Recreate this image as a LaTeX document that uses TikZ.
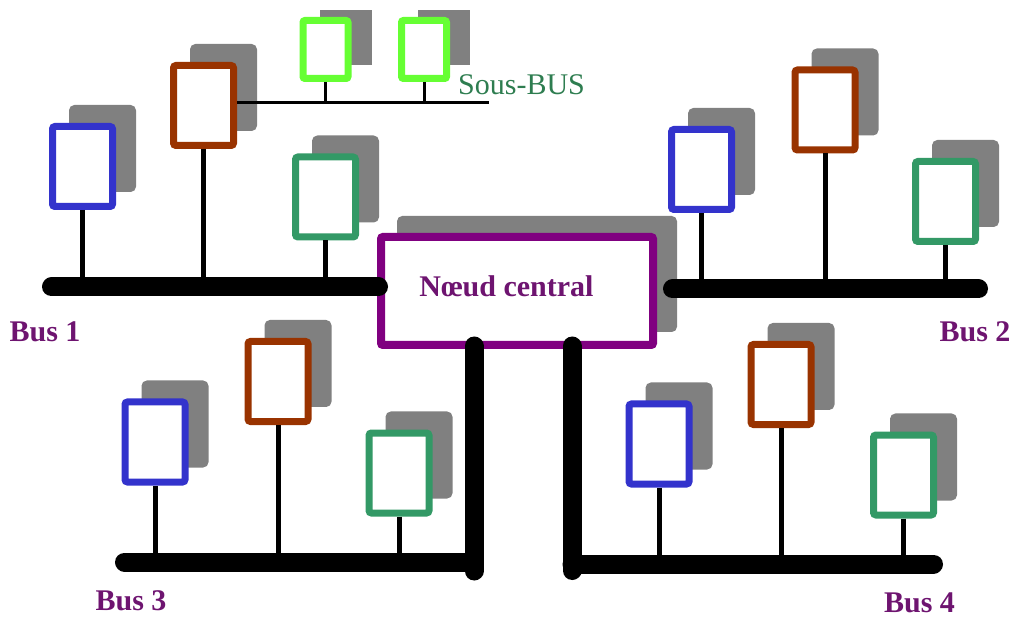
\documentclass[tikz,border=0pt]{standalone}
\usepackage{fontspec}
\setmainfont{Liberation Serif}
\usetikzlibrary{shadows,backgrounds}

\definecolor{devblue}{HTML}{3333CC}
\definecolor{devbrown}{HTML}{993300}
\definecolor{devgreen}{HTML}{339966}
\definecolor{sublime}{HTML}{66FF33}
\definecolor{hubpurple}{HTML}{800080}
\definecolor{labelpurple}{HTML}{6E1470}
\definecolor{subtext}{HTML}{2E7D50}
\definecolor{shadowgray}{HTML}{808080}

\tikzset{
  device/.style={draw=#1, fill=white, line width=7pt, rounded corners=2.5pt,
    inner sep=0pt, minimum width=60pt, minimum height=80pt,
    copy shadow={shadow xshift=20pt, shadow yshift=18pt, fill=shadowgray, draw=shadowgray}},
  subdevice/.style={draw=sublime, fill=white, line width=7pt, rounded corners=2pt,
    inner sep=0pt, minimum width=45pt, minimum height=58pt},
  hub/.style={draw=hubpurple, fill=white, line width=8pt, rounded corners=2pt,
    inner sep=0pt, minimum width=272pt, minimum height=108pt,
    copy shadow={shadow xshift=20pt, shadow yshift=17pt, fill=shadowgray, draw=shadowgray}},
  bus/.style={line width=19pt, line cap=round},
  stem/.style={line width=5pt},
  substem/.style={line width=3pt},
  buslabel/.style={text=labelpurple, font=\fontsize{30}{36}\selectfont\bfseries,
    inner sep=0pt, anchor=base},
  subtitle/.style={text=subtext, font=\fontsize{30}{36}\selectfont,
    inner sep=0pt, anchor=base west},
}

\begin{document}
\begin{tikzpicture}[x=1pt, y=-1pt]
\useasboundingbox (0,0) rectangle (1012,617);

% central node
\node[hub] (hub) at (517,291) {};
\node[buslabel] (hubtext) at (506.5,297) {Nœud central};

% bus end points
\coordinate (b1L) at (51.5,287);
\coordinate (b1R) at (378.5,287);
\coordinate (b2L) at (672.5,289);
\coordinate (b2R) at (978.5,289);
\coordinate (v3T) at (474,346);
\coordinate (v3B) at (474,571);
\coordinate (b3L) at (124.5,562);
\coordinate (v4T) at (572,346);
\coordinate (v4B) at (572,570.5);
\coordinate (b4R) at (933.5,564);
\coordinate (sbR) at (489,103);

% stations, bus 1
\node[device=devblue]  (d1a) at (82.5,166.5) {};
\node[device=devbrown] (d1b) at (203.5,105.5) {};
\node[device=devgreen] (d1c) at (325.5,197) {};
% stations, bus 2
\node[device=devblue]  (d2a) at (701.5,169.5) {};
\node[device=devbrown] (d2b) at (825,110) {};
\node[device=devgreen] (d2c) at (945.5,201.5) {};
% stations, bus 3
\node[device=devblue]  (d3a) at (155,442) {};
\node[device=devbrown] (d3b) at (278,381.5) {};
\node[device=devgreen] (d3c) at (399,473) {};
% stations, bus 4
\node[device=devblue]  (d4a) at (659,444) {};
\node[device=devbrown] (d4b) at (781,384.5) {};
\node[device=devgreen] (d4c) at (903.5,475) {};
% stations on the sub-bus
\node[subdevice] (s1) at (325.5,49.5) {};
\node[subdevice] (s2) at (424,49.5) {};
\begin{scope}[on background layer]
  \fill[shadowgray] ([xshift=20pt,yshift=7pt]s1.north west) rectangle ([xshift=20pt,yshift=17pt]s1.south east);
  \fill[shadowgray] ([xshift=20pt,yshift=7pt]s2.north west) rectangle ([xshift=20pt,yshift=17pt]s2.south east);
\end{scope}

% sub-bus
\draw[substem] (d1b.east |- sbR) -- (sbR);
\draw[substem] (s1.south) -- (s1.south |- sbR);
\draw[substem] (s2.south) -- (s2.south |- sbR);
\node[subtitle] (sublabel) at (458,95) {Sous-BUS};

% drop lines
\foreach \d in {d1a,d1b,d1c} \draw[stem] (\d.south) -- (\d.south |- b1L);
\foreach \d in {d2a,d2b,d2c} \draw[stem] (\d.south) -- (\d.south |- b2L);
\foreach \d in {d3a,d3b,d3c} \draw[stem] (\d.south) -- (\d.south |- b3L);
\foreach \d in {d4a,d4b,d4c} \draw[stem] (\d.south) -- (\d.south |- b4R);

% main buses
\draw[bus] (b1L) -- (b1R);
\draw[bus] (b2L) -- (b2R);
\draw[bus] (v3T) -- (v3B);
\draw[bus] (b3L) -- (v3T |- b3L);
\draw[bus] (v4T) -- (v4B);
\draw[bus] (v4T |- b4R) -- (b4R);

% bus names
\node[buslabel] (lab1) at (45,342) {Bus 1};
\node[buslabel] (lab2) at (975,342) {Bus 2};
\node[buslabel] (lab3) at (131,610) {Bus 3};
\node[buslabel] (lab4) at (919.5,612) {Bus 4};
\end{tikzpicture}
\end{document}
